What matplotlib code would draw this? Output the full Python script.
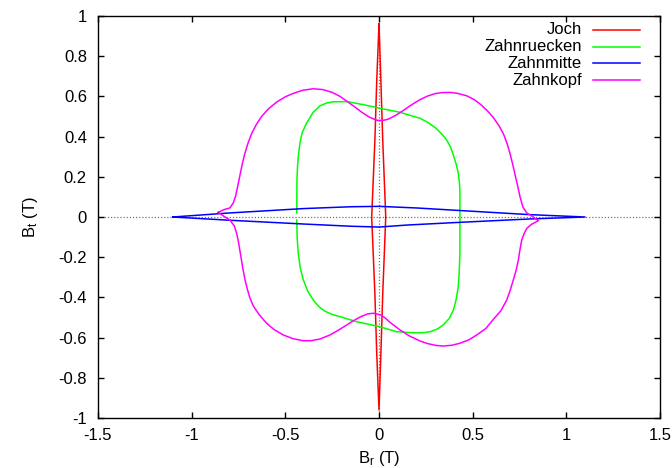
import matplotlib
matplotlib.use("Agg")
import matplotlib.pyplot as plt
from matplotlib.ticker import FixedLocator, FuncFormatter

plt.rcParams['font.family'] = ['Liberation Sans', 'DejaVu Sans']
plt.rcParams['mathtext.fontset'] = 'custom'
plt.rcParams['mathtext.rm'] = 'Liberation Sans'
plt.rcParams['mathtext.it'] = 'Liberation Sans:italic'

# ---------------- data ----------------
labels = ["Joch", "Zahnruecken", "Zahnmitte", "Zahnkopf"]
colors = ["#ff0000", "#00ff00", "#0000ff", "#ff00ff"]

joch_x = [0.0, 0.010, 0.020, 0.036, 0.020, 0.010, 0.0, -0.012, -0.022, -0.039, -0.022, -0.012, 0.0]
joch_y = [0.96, 0.68, 0.38, 0.0, -0.38, -0.68, -0.96, -0.68, -0.38, 0.0, 0.38, 0.68, 0.96]

ruecken_x = [-0.439, -0.438, -0.435, -0.430, -0.422, -0.410, -0.386, -0.352, -0.315,
             -0.280, -0.246, -0.172, -0.090, 0.005, 0.112, 0.219, 0.260, 0.300,
             0.335, 0.361, 0.382, 0.397, 0.412, 0.423, 0.430, 0.432, 0.432, 0.432,
             0.428, 0.423, 0.412, 0.397, 0.375, 0.343, 0.310, 0.272, 0.230, 0.183,
             0.095, 0.005, -0.119, -0.208, -0.250, -0.290, -0.322, -0.351, -0.380,
             -0.404, -0.420, -0.431, -0.437, -0.439]
ruecken_y = [0.020, 0.184, 0.250, 0.310, 0.368, 0.420, 0.468, 0.520, 0.553,
             0.567, 0.573, 0.574, 0.560, 0.541, 0.521, 0.491, 0.471, 0.445,
             0.413, 0.383, 0.348, 0.308, 0.262, 0.219, 0.165, 0.119, -0.015, -0.179,
             -0.280, -0.347, -0.410, -0.463, -0.505, -0.537, -0.558, -0.571, -0.576, -0.576,
             -0.571, -0.546, -0.521, -0.496, -0.485, -0.468, -0.445, -0.413, -0.370,
             -0.313, -0.255, -0.181, -0.100, -0.015]

mitte_x = [-1.10, -0.80, -0.40, -0.15, 0.0, 0.20, 0.40, 0.80, 1.10,
           0.80, 0.40, 0.15, 0.0, -0.15, -0.40, -0.80, -1.10]
mitte_y = [0.0, 0.020, 0.042, 0.051, 0.053, 0.045, 0.034, 0.012, 0.0,
           -0.010, -0.028, -0.040, -0.050, -0.046, -0.035, -0.016, 0.0]

kopf_x = [-0.858, -0.830, -0.796, -0.778, -0.765, -0.755, -0.745, -0.733, -0.718,
          -0.700, -0.680, -0.655, -0.625, -0.590, -0.546, -0.500, -0.458, -0.405,
          -0.351, -0.300, -0.250, -0.208, -0.170, -0.130, -0.090, -0.050, -0.010,
          0.020, 0.050, 0.090, 0.130, 0.170, 0.219, 0.260, 0.300, 0.340, 0.379,
          0.420, 0.468, 0.510, 0.545, 0.580, 0.610, 0.640, 0.664, 0.684, 0.699,
          0.713, 0.726, 0.740, 0.753, 0.768, 0.789, 0.817, 0.851, 0.815, 0.789,
          0.775, 0.762, 0.752, 0.744, 0.732, 0.717, 0.700, 0.682, 0.650, 0.610,
          0.570, 0.522, 0.478, 0.432, 0.390, 0.343, 0.305, 0.260, 0.219, 0.165,
          0.112, 0.060, 0.030, 0.005, -0.030, -0.060, -0.095, -0.135, -0.172,
          -0.220, -0.262, -0.315, -0.360, -0.404, -0.460, -0.511, -0.560, -0.600,
          -0.640, -0.671, -0.690, -0.704, -0.715, -0.728, -0.740, -0.750, -0.760,
          -0.772, -0.796, -0.830, -0.858]
kopf_y = [0.023, 0.036, 0.045, 0.070, 0.105, 0.150, 0.195, 0.250, 0.310,
          0.365, 0.415, 0.460, 0.502, 0.538, 0.572, 0.598, 0.615, 0.631,
          0.638, 0.634, 0.620, 0.600, 0.575, 0.548, 0.520, 0.496, 0.481,
          0.480, 0.487, 0.506, 0.530, 0.556, 0.584, 0.602, 0.614, 0.619, 0.620,
          0.615, 0.603, 0.583, 0.558, 0.527, 0.495, 0.455, 0.414, 0.365, 0.317,
          0.265, 0.212, 0.155, 0.100, 0.050, 0.020, 0.004, -0.018, -0.036, -0.056,
          -0.082, -0.114, -0.165, -0.214, -0.265, -0.313, -0.365, -0.413, -0.467, -0.510,
          -0.555, -0.587, -0.612, -0.628, -0.638, -0.642, -0.639, -0.630, -0.617, -0.593,
          -0.562, -0.525, -0.500, -0.486, -0.479, -0.482, -0.495, -0.515, -0.537,
          -0.565, -0.587, -0.607, -0.615, -0.616, -0.605, -0.587, -0.560, -0.529,
          -0.485, -0.443, -0.400, -0.355, -0.313, -0.250, -0.181, -0.125, -0.081,
          -0.045, -0.015, 0.005, 0.023]

xticks = [-1.5, -1.0, -0.5, 0.0, 0.5, 1.0, 1.5]
yticks = [-1.0, -0.8, -0.6, -0.4, -0.2, 0.0, 0.2, 0.4, 0.6, 0.8, 1.0]

# ---------------- figure ----------------
fig = plt.figure(figsize=(6.72, 4.68), dpi=100)
ax = fig.add_axes([98/672, 50/468, 562/672, 402/468])

ax.axhline(0, color='#777777', lw=0.9, ls=(0, (1, 1.5)), zorder=1)
ax.axvline(0, color='#777777', lw=0.9, ls=(0, (1, 1.5)), zorder=1)

series = [(joch_x, joch_y), (ruecken_x, ruecken_y), (mitte_x, mitte_y), (kopf_x, kopf_y)]
for (xs, ys), c in zip(series, colors):
    ax.plot(xs, ys, color=c, lw=1.1, zorder=2, solid_joinstyle='round')

ax.set_xlim(-1.5, 1.5)
ax.set_ylim(-1, 1)
ax.xaxis.set_major_locator(FixedLocator(xticks))
ax.yaxis.set_major_locator(FixedLocator(yticks))
fmt = FuncFormatter(lambda v, p: ('%g' % round(v, 2)) if abs(v) > 1e-9 else '0')
ax.xaxis.set_major_formatter(fmt)
ax.yaxis.set_major_formatter(fmt)
ax.tick_params(direction='in', length=4.5, width=1.0, top=True, right=True,
               labelsize=12, colors='black')
ax.tick_params(axis='x', pad=7)
ax.tick_params(axis='y', pad=8)
for s in ax.spines.values():
    s.set_linewidth(1.0)

fig.text(379/672, 1 - 458/468, r'B$_\mathrm{r}$ (T)', ha='center', va='center', fontsize=12)
fig.text(30/672, 1 - 217/468, r'B$_\mathrm{t}$ (T)', ha='center', va='center', fontsize=12,
         rotation=90)

# legend (gnuplot style, text right-aligned, sample on the right)
row_y = [30, 46.7, 63.3, 80]
for lab, c, yy in zip(labels, colors, row_y):
    fy = 1 - yy / 468
    fig.text(582/672, fy, lab, ha='right', va='center', fontsize=12)
    fig.add_artist(plt.Line2D([593/672, 640/672], [fy, fy], color=c, lw=1.1))

fig.savefig('out.png', dpi=100)
